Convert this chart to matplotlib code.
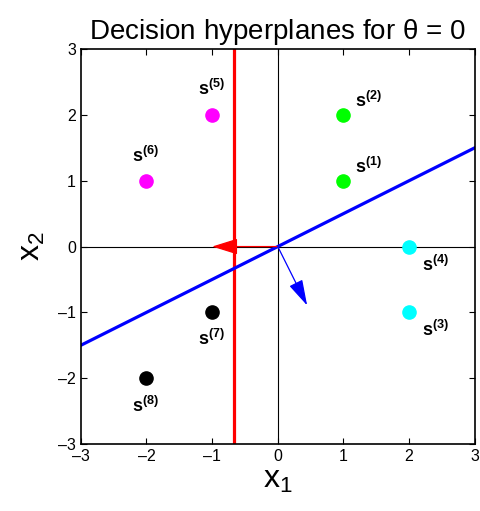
import numpy as np
import matplotlib
matplotlib.use("Agg")
import matplotlib.pyplot as plt

plt.rcParams['font.family'] = ['Liberation Sans', 'DejaVu Sans']
plt.rcParams['mathtext.fontset'] = 'custom'
plt.rcParams['mathtext.rm'] = 'Liberation Sans'
plt.rcParams['mathtext.bf'] = 'Liberation Sans:bold'
plt.rcParams['mathtext.it'] = 'Liberation Sans'

# sample points s(1)..s(8)
pts_x = [1, 1, 2, 2, -1, -2, -1, -2]
pts_y = [1, 2, -1, 0, 2, 1, -1, -2]
pts_col = ['#00ff00', '#00ff00', '#00ffff', '#00ffff',
           '#ff00ff', '#ff00ff', 'black', 'black']
# label offsets in pixels (dx, dy) relative to each point
lab_off = [(25, 14), (25, 14), (26, -18), (26, -18),
           (-1, 26), (-1, 25), (-1, -27), (-1, -28)]

# hyperplanes: red is vertical at x = -2/3, blue is x2 = 0.5 x1
red_x = -2.0 / 3.0
blue_slope = 0.5
red_normal = (-1.0, 0.0)
blue_normal = (1 / np.sqrt(5), -2 / np.sqrt(5))

fig = plt.figure(figsize=(4.81, 5.11), dpi=100)
ax = fig.add_axes([0.168, 0.131, 0.819, 0.773])

ax.axhline(0, color='black', lw=0.8, zorder=1)
ax.axvline(0, color='black', lw=0.8, zorder=1)

ax.axvline(red_x, color='red', lw=2.3, zorder=2)
xx = np.array([-3, 3])
ax.plot(xx, blue_slope * xx, color='blue', lw=2.3, zorder=2)

ax.annotate('', xy=red_normal, xytext=(0, 0),
            arrowprops=dict(arrowstyle='-|>,head_length=1.6,head_width=0.5',
                            color='red', lw=0.9, shrinkA=0, shrinkB=0),
            zorder=3)
ax.annotate('', xy=blue_normal, xytext=(0, 0),
            arrowprops=dict(arrowstyle='-|>,head_length=1.6,head_width=0.45',
                            color='blue', lw=0.9, shrinkA=0, shrinkB=0),
            zorder=3)

for i in range(len(pts_x)):
    ax.plot(pts_x[i], pts_y[i], 'o', color=pts_col[i], ms=9.5, zorder=4)
    ax.annotate(r'$\mathbf{s^{(%d)}}$' % (i + 1), (pts_x[i], pts_y[i]),
                xytext=lab_off[i], textcoords='offset pixels',
                ha='center', va='center', fontsize=13)

ax.set_xlim(-3, 3)
ax.set_ylim(-3, 3)
ticks = [-3, -2, -1, 0, 1, 2, 3]
ax.set_xticks(ticks)
ax.set_yticks(ticks)
ax.set_xticklabels([str(t).replace('-', '\u2013') for t in ticks])
ax.set_yticklabels([str(t).replace('-', '\u2013') for t in ticks])
ax.tick_params(direction='in', top=True, right=True, length=4,
               labelsize=11.5, width=0.8)
for sp in ax.spines.values():
    sp.set_linewidth(1.2)

ax.set_xlabel(r'$\mathregular{x_1}$', fontsize=23, labelpad=1)
ax.set_ylabel(r'$\mathregular{x_2}$', fontsize=23, labelpad=8)
ax.set_title(r'Decision hyperplanes for $\mathregular{\theta}$ = 0',
             fontsize=20, pad=7)

fig.savefig('out.png', dpi=100)
